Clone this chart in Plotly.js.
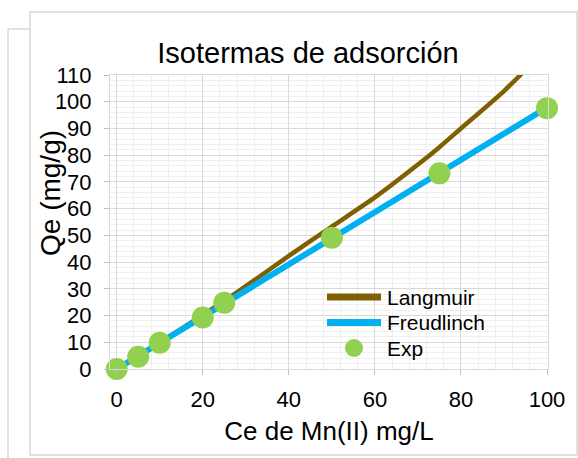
<!DOCTYPE html>
<html>
<head>
<meta charset="utf-8">
<script src="https://cdn.plot.ly/plotly-3.0.1.min.js"></script>
<style>html,body{margin:0;padding:0;background:#fff;}#chart{width:578px;height:458px;}</style>
</head>
<body>
<div id="chart"></div>
<script>
// ---- data ----
var expX  = [0, 5, 10, 20, 25, 50, 75, 100];
var expY  = [0, 4.6, 9.8, 19.3, 24.8, 49.1, 73.2, 97.6];

var freuX = [0, 5, 10, 20, 25, 50, 75, 100];
var freuY = [0, 4.9, 9.8, 19.6, 24.5, 49, 73.4, 97.8];

var langX = [0, 5, 10, 20, 25, 30, 40, 50, 60, 70, 75, 80, 90, 100];
var langY = [0, 4.9, 9.9, 20.2, 25.5, 31, 42.3, 53.3, 64.2, 76.5, 83, 90, 104, 120];

var xTicks = [0, 20, 40, 60, 80, 100];
var yTicks = [0, 10, 20, 30, 40, 50, 60, 70, 80, 90, 100, 110];

var seriesNames = ["Langmuir", "Freudlinch", "Exp"];
var seriesColors = ["#7F6000", "#00B0F0", "#92D050"];
var titleText = "Isotermas de adsorción";
var xTitle = "Ce de Mn(II) mg/L";
var yTitle = "Qe (mg/g)";

// ---- layout helpers (pixel -> paper) ----
var W = 578, H = 458;
var L = 110, R = 30, T = 75, B = 89;
var pw = W - L - R, ph = H - T - B;
function px(x){ return (x - L) / pw; }
function py(y){ return (H - B - y) / ph; }

var FONT = "'Liberation Sans', Arial, Helvetica, sans-serif";
var frame = "#D9D9D9";

var traces = [
  {x: langX, y: langY, name: seriesNames[0], mode: "lines", showlegend: false,
   line: {color: seriesColors[0], width: 4.5, shape: "spline", smoothing: 0.6}},
  {x: freuX, y: freuY, name: seriesNames[1], mode: "lines", showlegend: false,
   line: {color: seriesColors[1], width: 6}},
  {x: expX, y: expY, name: seriesNames[2], mode: "markers", cliponaxis: false, showlegend: false,
   marker: {color: seriesColors[2], size: 22, line: {width: 0}}}
];

// custom legend (Excel-like compact spacing)
var legRows = [297, 322.5, 348];
var legShapes = [
  {type: "line", xref: "paper", yref: "paper", x0: px(327), x1: px(381), y0: py(legRows[0]), y1: py(legRows[0]),
   line: {color: seriesColors[0], width: 7}},
  {type: "line", xref: "paper", yref: "paper", x0: px(327), x1: px(381), y0: py(legRows[1]), y1: py(legRows[1]),
   line: {color: seriesColors[1], width: 7}},
  {type: "circle", xref: "paper", yref: "paper", x0: px(345), x1: px(363), y0: py(legRows[2] + 9), y1: py(legRows[2] - 9),
   fillcolor: seriesColors[2], line: {width: 0}}
];
var anns = seriesNames.map(function(n, i){
  return {text: n, xref: "paper", yref: "paper", x: px(385), y: py(legRows[i]),
          xanchor: "left", yanchor: "middle", showarrow: false,
          font: {size: 21, color: "#000", family: FONT}};
});
// y-axis title (Excel places it slightly above the plot centre)
anns.push({text: yTitle, xref: "paper", yref: "paper", x: px(50), y: py(193),
           xanchor: "center", yanchor: "middle", textangle: -90, showarrow: false,
           font: {size: 28, color: "#000", family: FONT}});

var layout = {
  width: W, height: H,
  margin: {l: L, r: R, t: T, b: B, pad: 0},
  paper_bgcolor: "#fff", plot_bgcolor: "#fff",
  font: {family: FONT, color: "#000", size: 22},
  title: {text: titleText, font: {size: 29, color: "#000", family: FONT},
          xref: "container", x: 308 / W, xanchor: "center",
          yref: "container", y: 1 - 53 / H, yanchor: "middle"},
  xaxis: {
    range: [-1.56, 100.23], tickmode: "array", tickvals: xTicks,
    title: {text: xTitle, font: {size: 26}, standoff: 10},
    showgrid: true, gridcolor: "#D9D9D9", gridwidth: 1,
    minor: {dtick: 4, showgrid: true, gridcolor: "#EFEFEF", gridwidth: 1, ticks: ""},
    zeroline: false, showline: true, linecolor: frame, linewidth: 1, mirror: true,
    ticks: "outside", ticklen: 5, tickcolor: "#BFBFBF", tickwidth: 1,
    ticklabelstandoff: 6, tickfont: {size: 22}
  },
  yaxis: {
    range: [0, 110], tickmode: "array", tickvals: yTicks,
    showgrid: true, gridcolor: "#D9D9D9", gridwidth: 1,
    minor: {dtick: 2, showgrid: true, gridcolor: "#EFEFEF", gridwidth: 1, ticks: ""},
    zeroline: false, showline: true, linecolor: frame, linewidth: 1, mirror: true,
    ticks: "outside", ticklen: 5, tickcolor: "#BFBFBF", tickwidth: 1,
    ticklabelstandoff: 8, tickfont: {size: 22}
  },
  showlegend: false,
  annotations: anns,
  shapes: [
    // front chart frame
    {type: "rect", xref: "paper", yref: "paper",
     x0: px(30), x1: px(577), y0: py(455), y1: py(12),
     line: {color: frame, width: 1.5}, fillcolor: "rgba(0,0,0,0)", layer: "below"},
    // back chart frame (partially visible)
    {type: "line", xref: "paper", yref: "paper",
     x0: px(8), x1: px(30), y0: py(29), y1: py(29), line: {color: frame, width: 1.5}},
    {type: "line", xref: "paper", yref: "paper",
     x0: px(8), x1: px(8), y0: py(29), y1: py(460), line: {color: frame, width: 1.5}}
  ].concat(legShapes)
};

Plotly.newPlot("chart", traces, layout, {displayModeBar: false, staticPlot: true});
</script>
</body>
</html>
